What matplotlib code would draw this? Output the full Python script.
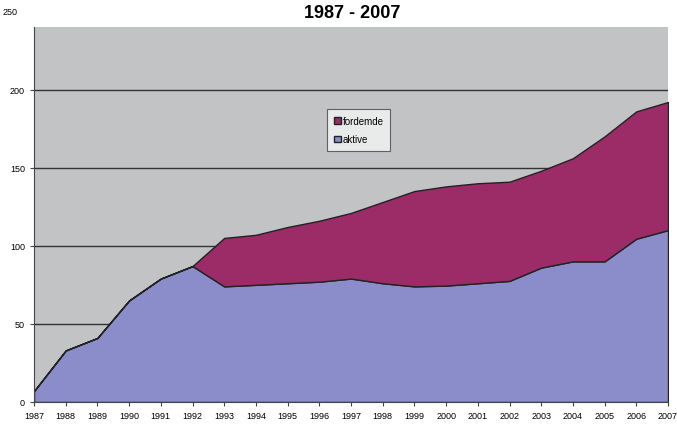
import matplotlib
matplotlib.use('Agg')
import matplotlib.pyplot as plt
import numpy as np

plt.rcParams.update({'font.family': 'sans-serif', 'font.sans-serif': ['Liberation Sans', 'DejaVu Sans']})

years = list(range(1987, 2008))
aktive = [7, 33, 41, 65, 79, 87, 74, 75, 76, 77, 79, 76, 74, 74.5, 76, 77.5, 86, 90, 90, 104.5, 110]
total = [7, 33, 41, 65, 79, 87, 105, 107, 112, 116, 121, 128, 135, 138, 140, 141, 148, 156, 170, 186, 192]
fordemde = [t - a for t, a in zip(total, aktive)]

fig = plt.figure(figsize=(6.77, 4.27), dpi=100)
ax = fig.add_axes([34/677, 24/427, 634/677, 375/427])
ax.set_facecolor('#c2c3c5')

ax.stackplot(years, aktive, fordemde, colors=['#8a8dca', '#9b2c68'],
             edgecolor='#222222', linewidth=1.0, labels=['aktive', 'fordemde'], zorder=2)

for y in [50, 100, 150, 200]:
    ax.axhline(y, color='#333333', linewidth=1.0, zorder=1)

ax.set_xlim(1987, 2007)
ax.set_ylim(0, 240)
ax.set_xticks(years)
ax.set_xticklabels([str(y) for y in years], fontsize=6.5)
ax.set_yticks([0, 50, 100, 150, 200])
ax.tick_params(axis='both', labelsize=6.5, length=3, color='#444444')
ax.annotate('250', xy=(0, 250), xycoords=('axes fraction', 'data'),
            xytext=(-12, 0), textcoords='offset points', fontsize=6.5,
            ha='right', va='center', annotation_clip=False)
for s in ['top', 'right']:
    ax.spines[s].set_visible(False)
ax.spines['left'].set_color('#444444')
ax.spines['bottom'].set_color('#444444')

h, l = ax.get_legend_handles_labels()
leg = ax.legend(h[::-1], l[::-1], loc='lower left', bbox_to_anchor=(0.462, 0.669),
                fontsize=7, frameon=True, fancybox=False, edgecolor='#444444',
                handlelength=0.7, handleheight=0.7, handletextpad=0.2,
                borderpad=0.7, labelspacing=0.9, borderaxespad=0)
leg.get_frame().set_linewidth(0.8)
leg.get_frame().set_facecolor('#f4f4f4')

fig.text(352/677, 1 - 13/427, '1987 - 2007', fontsize=13, fontweight='bold',
         ha='center', va='center')

fig.savefig('out.png', dpi=100, facecolor='white')
